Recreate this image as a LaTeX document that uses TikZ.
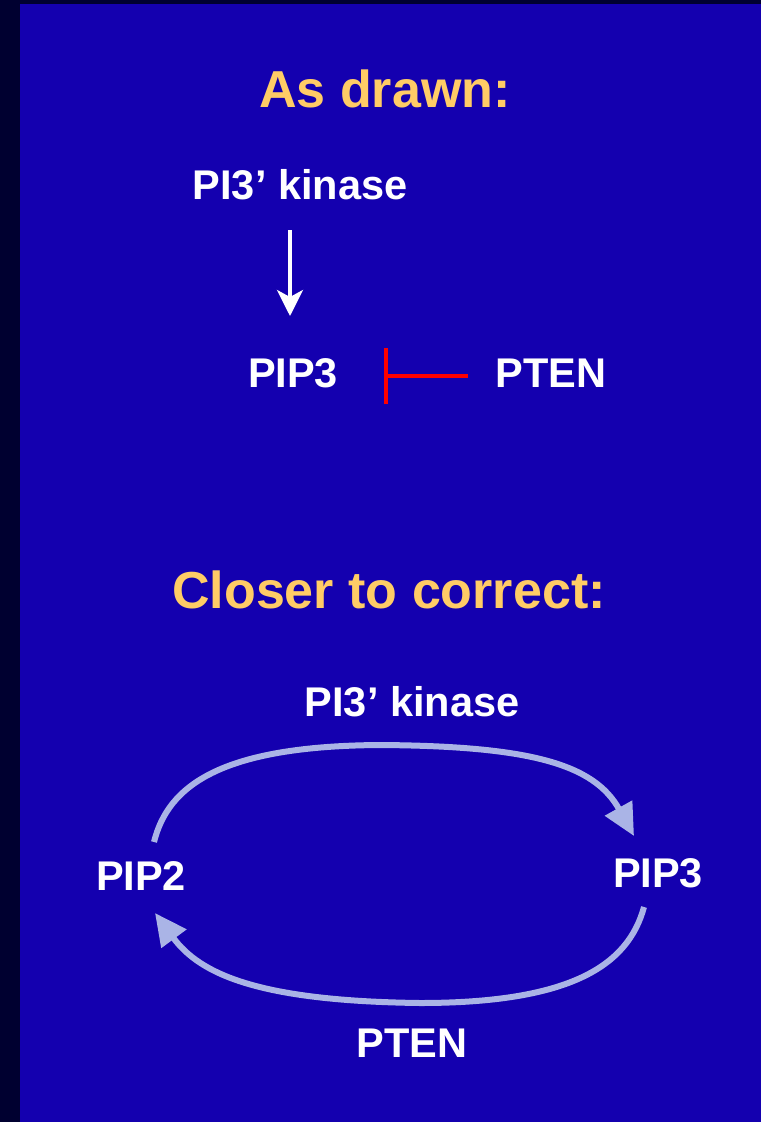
\documentclass[tikz,border=0pt]{standalone}
\usepackage{fontspec}
\setmainfont{Liberation Sans}
\usetikzlibrary{arrows.meta,calc}
\definecolor{slideblue}{RGB}{20,0,175}
\definecolor{slidedark}{RGB}{0,0,48}
\definecolor{headgold}{RGB}{255,204,102}
\definecolor{cyclelav}{RGB}{170,180,230}
\begin{document}
\begin{tikzpicture}[x=1pt,y=-1pt,
  heading/.style={anchor=base,inner sep=0pt,text=headgold,
    font=\bfseries\fontsize{52}{60}\selectfont},
  label/.style={anchor=base,inner sep=0pt,text=white,
    font=\bfseries\fontsize{41.5}{48}\selectfont},
  activate/.style={draw=white,line width=3.5pt,
    -{Stealth[length=26pt,width=26pt,inset=7pt]}},
  inhibit/.style={draw=red,line width=3.5pt,-{Bar[width=56pt]}},
  cycle/.style={draw=cyclelav,line width=6pt,
    -{Triangle[length=32pt,width=30pt]}}]
  % slide background
  \fill[slidedark] (0,0) rectangle (761,1122);
  \fill[slideblue] (20,4) rectangle (761,1122);
  \useasboundingbox (0,0) rectangle (761,1122);

  % top panel: linear scheme
  \node[heading] (h1) at (385,107) {As drawn:};
  \node[label] (k1) at (300,199) {PI3’ kinase};
  \node[label] (p3a) at (293,387) {PIP3};
  \node[label] (pt1) at (551,387) {PTEN};
  \draw[activate] ($(k1.base)+(-10,31)$) -- ($(p3a.base)+(-3,-71)$);
  \draw[inhibit] ($(pt1.base)+(-83,-11)$) -- ($(p3a.base)+(91,-11)$);

  % bottom panel: phosphorylation cycle
  \node[heading] (h2) at (389,608) {Closer to correct:};
  \node[label] (k2) at (412,716) {PI3’ kinase};
  \node[label] (p2) at (141,890) {PIP2};
  \node[label] (p3b) at (658,887) {PIP3};
  \node[label] (pt2) at (412,1057) {PTEN};
  \draw[cycle] ($(p2.base)+(13,-48)$)
      .. controls (168,786) and (220,746) .. (380,745)
      .. controls (530,746) and (594,764) .. ($(p3b.base)+(-24,-51)$);
  \draw[cycle] ($(p3b.base)+(-14,20)$)
      .. controls (628,966) and (570,1003) .. (420,1003)
      .. controls (258,1001) and (200,974) .. ($(p2.base)+(14,23)$);
\end{tikzpicture}
\end{document}
